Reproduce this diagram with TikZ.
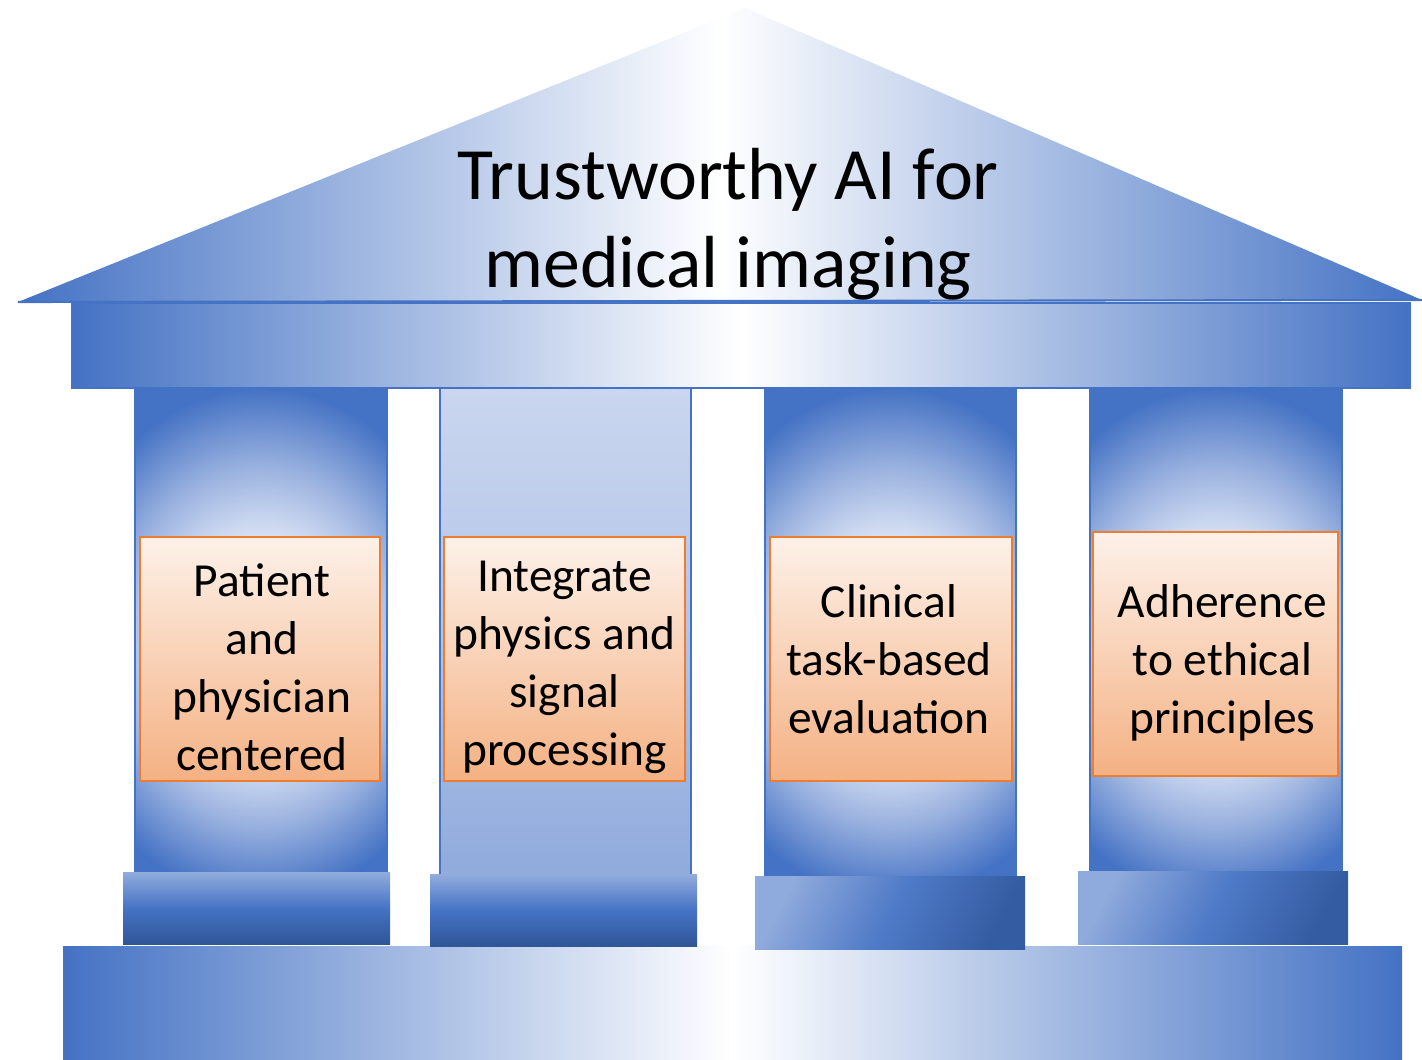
\documentclass[tikz,border=0pt]{standalone}
\usepackage{fontspec}
\setmainfont{Carlito}
\usetikzlibrary{calc}
\definecolor{colblue}{HTML}{4472C4}
\definecolor{coldeep}{HTML}{2F5597}
\definecolor{colsky}{HTML}{8FAADC}
\definecolor{colpale}{HTML}{CAD6EF}
\definecolor{colmist}{HTML}{D2DDF2}
\definecolor{colhaze}{HTML}{9CB3E0}
\definecolor{boxline}{HTML}{ED7D31}
\definecolor{boxtop}{HTML}{FDF1E9}
\definecolor{boxbottom}{HTML}{F4B183}
\colorlet{slantdark}{coldeep!75!colblue}
\pgfdeclareradialshading{pillarglow}{\pgfpoint{0bp}{-2bp}}{color(0bp)=(white); color(12bp)=(colmist); color(18bp)=(colhaze); color(26bp)=(colblue); color(50bp)=(colblue)}

\begin{document}
\begin{tikzpicture}[
    shaftline/.style={draw=colblue, line width=0.4pt},
    flatshaft/.style={shaftline, top color=colpale, bottom color=colsky, middle color=colpale!60!colsky},
    plinth/.style={top color=colsky, bottom color=coldeep, middle color=colblue},
    slantplinth/.style={left color=colsky, right color=slantdark, middle color=colblue!85!colsky, shading angle=62},
    glowband/.style={left color=colblue, right color=colblue, middle color=white},
    pillarbox/.style={draw=boxline, line width=0.5pt, top color=boxtop, bottom color=boxbottom, minimum height=2.44cm},
    boxtext/.style={inner sep=0pt, align=center, font=\fontsize{13.5}{16.5}\selectfont}
  ]
  \useasboundingbox (0,0) rectangle (14.22,-10.60);
  % colunas com brilho (1, 3 e 4)
  \foreach \l/\r in {1.35/3.87, 7.65/10.16, 10.90/13.42} {
    \begin{scope}
      \clip (\l,-3.88) rectangle (\r,-8.79);
      \shade[shading=pillarglow] (\l-0.75,-3.88) rectangle (\r+0.75,-8.79);
    \end{scope}
    \draw[shaftline] (\l,-3.88) rectangle (\r,-8.79);
  }
  \draw[flatshaft] (4.40,-3.88) rectangle (6.91,-8.77); % coluna 2
  % piso
  \shade[glowband] (0.63,-9.47) rectangle (14.02,-10.60);
  % bases das colunas
  \shade[plinth] (1.23,-8.73) rectangle (3.90,-9.45);
  \shade[plinth] (4.30,-8.75) rectangle (6.97,-9.47);
  \shade[slantplinth] (7.55,-8.77) rectangle (10.25,-9.50);
  \shade[slantplinth] (10.78,-8.72) rectangle (13.48,-9.45);
  % viga e telhado
  \draw[glowband, draw=colblue, line width=0.4pt] (0.72,-3.03) rectangle (14.10,-3.88);
  \shade[glowband] (7.45,-0.08) -- (0.18,-3.02) -- (14.22,-3.00) -- cycle;
  \draw[colblue, line width=0.6pt] (0.18,-3.02) -- (14.22,-3.00); % linha do telhado
  \node[align=center, font=\fontsize{21}{25}\selectfont] (title) at (7.28,-2.24) {Trustworthy AI for\\medical imaging};
  % caixas laranja
  \node[pillarbox, minimum width=2.40cm] (patient) at (2.60,-6.59) {};
  \node[pillarbox, minimum width=2.41cm] (physics) at (5.645,-6.59) {};
  \node[pillarbox, minimum width=2.42cm] (clinical) at (8.91,-6.59) {};
  \node[pillarbox, minimum width=2.45cm] (ethics) at (12.155,-6.54) {};
  % textos das caixas
  \node[boxtext] (patienttext) at ([xshift=0.02cm, yshift=-0.08cm]patient.center) {Patient\\and\\physician\\centered};
  \node[boxtext] (physicstext) at ([yshift=-0.08cm]physics.center) {Integrate\\physics and\\signal\\processing};
  \node[boxtext] (clinicaltext) at ([xshift=-0.02cm]clinical.center) {Clinical\\task-based\\evaluation};
  \node[boxtext] (ethicstext) at ([xshift=0.07cm, yshift=-0.09cm]ethics.center) {Adherence\\to ethical\\principles};
\end{tikzpicture}
\end{document}
